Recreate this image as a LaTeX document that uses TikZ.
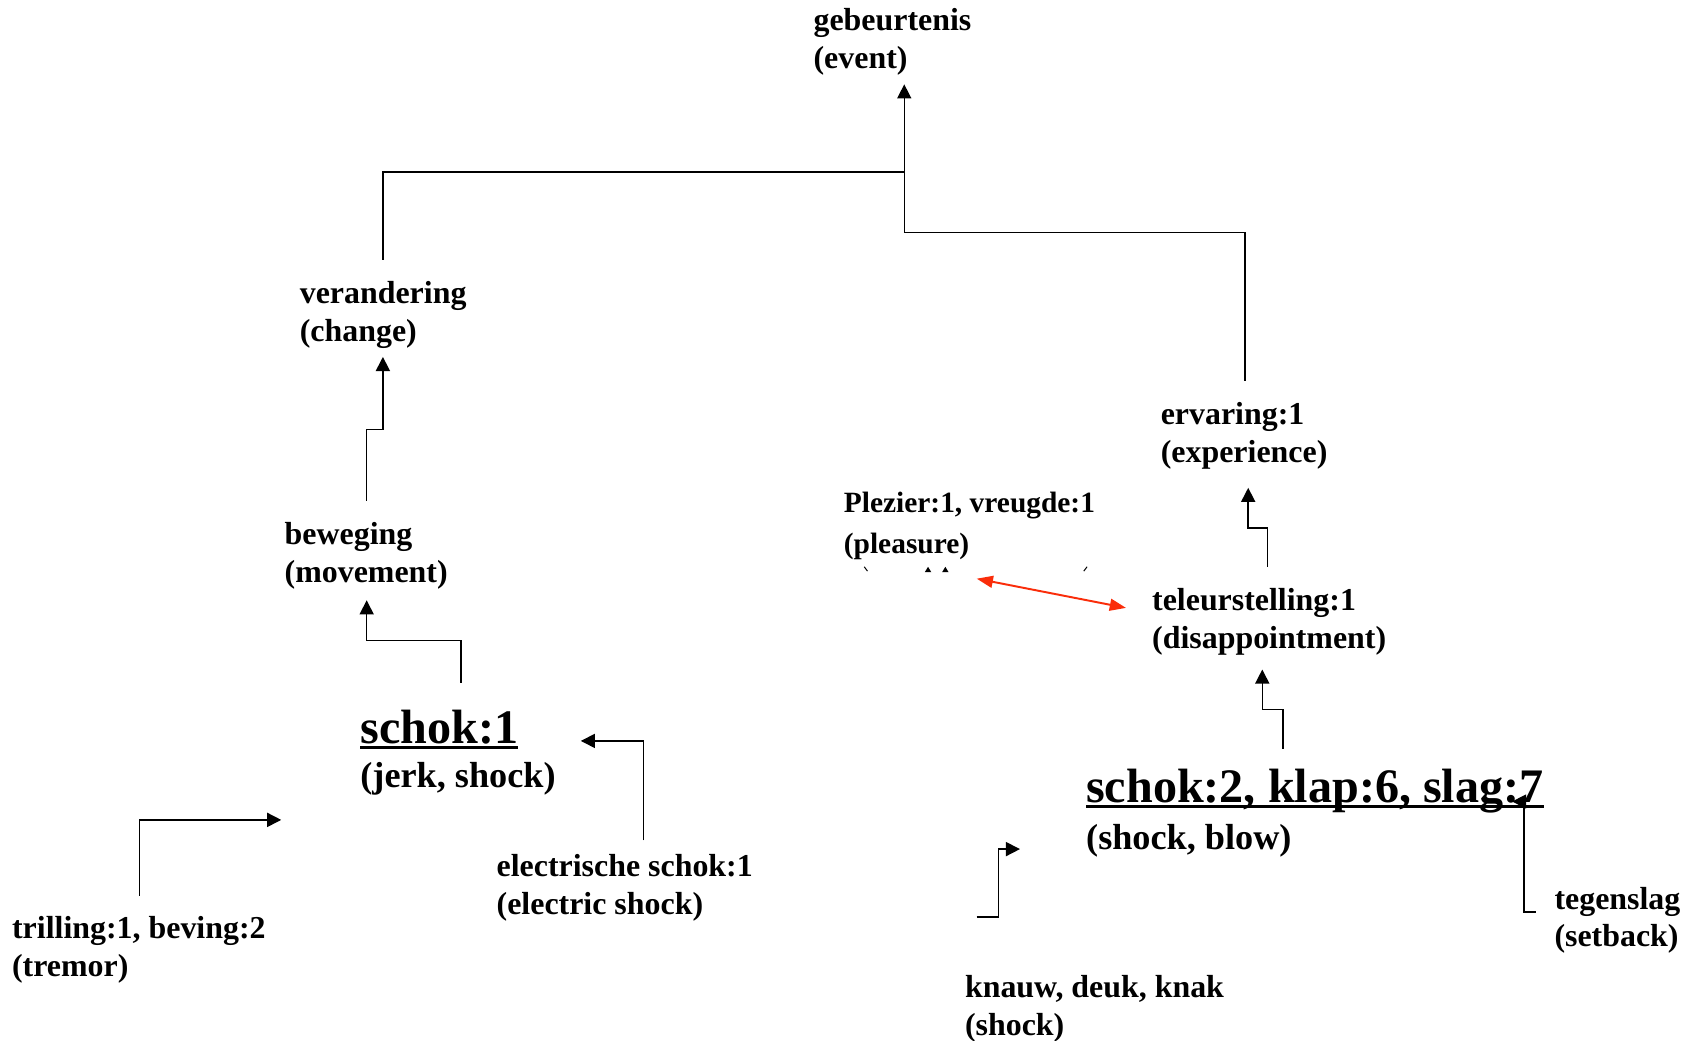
\documentclass[tikz,border=0pt]{standalone}
\usepackage{fontspec}
\setmainfont{Liberation Serif}
\usetikzlibrary{arrows.meta}
\definecolor{linkred}{RGB}{250,45,10}
% underlined headword: rule as wide as the word, below its baseline
\newcommand\ulword[1]{\setbox0\hbox{#1}\rlap{\rule[-5pt]{\wd0}{2.6pt}}\box0}
% two lines of a label; the first line's baseline is the node's base
\newcommand\twolines[2]{\begin{tabular}[t]{@{}l@{}}#1\\#2\end{tabular}}
\tikzset{
  lbl/.style={anchor=base west, inner sep=0pt, font=\fontsize{29.5}{35}\selectfont\bfseries},
  plbl/.style={anchor=base west, inner sep=0pt, font=\fontsize{27.2}{38}\selectfont\bfseries},
  headA/.style={anchor=base west, inner sep=0pt, font=\fontsize{33.5}{41}\selectfont\bfseries},
  headB/.style={anchor=base west, inner sep=0pt, font=\fontsize{33.5}{43}\selectfont\bfseries},
  link/.style={line width=1.4pt, line join=miter, -{Triangle[length=13pt,width=13pt]}},
  tie/.style={line width=1.4pt, line join=miter},
  rel/.style={line width=1.8pt, draw=linkred, fill=linkred,
    {Triangle[length=15pt,width=11pt]}-{Triangle[length=15pt,width=11pt]}},
}
\newcommand\bigword[1]{{\fontsize{44.5}{50}\selectfont\ulword{#1}}}
\begin{document}
\begin{tikzpicture}[x=1pt,y=-1pt]
\useasboundingbox[fill=white] (0,0) rectangle (1568,962);

% labels
\node[lbl]  (ev) at (752,28.5)  {\twolines{gebeurtenis}{(event)}};
\node[lbl]  (ch) at (277,280.5) {\twolines{verandering}{(change)}};
\node[lbl]  (mv) at (263,503.5) {\twolines{beweging}{(movement)}};
\node[headA](sa) at (333,687)   {\twolines{\bigword{schok:1}}{(jerk, shock)}};
\node[lbl]  (el) at (459,810.5) {\twolines{electrische schok:1}{(electric shock)}};
\node[lbl]  (tr) at (11,867.5)  {\twolines{trilling:1, beving:2}{(tremor)}};
\node[lbl]  (ex) at (1073,392.5){\twolines{ervaring:1}{(experience)}};
\node[plbl] (pl) at (780,474)   {\twolines{Plezier:1, vreugde:1}{(pleasure)}};
\node[lbl]  (te) at (1065,564.5){\twolines{teleurstelling:1}{(disappointment)}};
\node[headB](sb) at (1004,742)  {\twolines{\bigword{schok:2, klap:6, slag:7}}{(shock, blow)}};
\node[lbl]  (tg) at (1437,840.5){\twolines{tegenslag}{(setback)}};
\node[lbl]  (kn) at (892,922.5) {\twolines{knauw, deuk, knak}{(shock)}};

% connector end points
\coordinate (evIn)  at (836,78);
\coordinate (evJn)  at (836,159);
\coordinate (chOut) at (354,240);
\coordinate (chIn)  at (354,330);
\coordinate (exOut) at (1151,352);
\coordinate (mvOut) at (339,463);
\coordinate (mvIn)  at (339,555);
\coordinate (saOut) at (426,631);
\coordinate (saInR) at (537,685);
\coordinate (saInL) at (260,758);
\coordinate (elOut) at (595,777);
\coordinate (trOut) at (129,828);
\coordinate (exIn)  at (1154,451);
\coordinate (teOut) at (1172,524);
\coordinate (teIn)  at (1167,619);
\coordinate (sbOut) at (1186,692);
\coordinate (sbInR) at (1398,741);
\coordinate (sbInL) at (943,785);
\coordinate (tgOut) at (1420,843);
\coordinate (knOut) at (903,848);
\coordinate (plEnd) at (903,535);
\coordinate (teEnd) at (1041,562);

% hypernym links
\draw[link] (exOut) |- (836,215) -- (evIn);
\draw[tie]  (chOut) |- (evJn);
\draw[link] (mvOut) -- (339,397) -| (chIn);
\draw[link] (saOut) -- (426,592) -| (mvIn);
\draw[link] (elOut) |- (saInR);
\draw[link] (trOut) |- (saInL);
\draw[link] (teOut) -- (1172,488) -| (exIn);
\draw[link] (sbOut) -- (1186,656) -| (teIn);
\draw[link] (tgOut) -- (1409,843) |- (sbInR);
\draw[link] (knOut) -- (923,848) |- (sbInL);

% antonym relation
\draw[rel] (plEnd) -- (teEnd);

% tops of a cut-off line under (pleasure)
\begin{scope}[line width=0.9pt]
  \draw (799,524) -- (802,528);
  \fill (855,529) -- (858,524) -- (861,529) -- cycle;
  \fill (871,529) -- (874,524) -- (877,529) -- cycle;
  \draw (1005,524) -- (1002,528);
\end{scope}
\end{tikzpicture}
\end{document}
